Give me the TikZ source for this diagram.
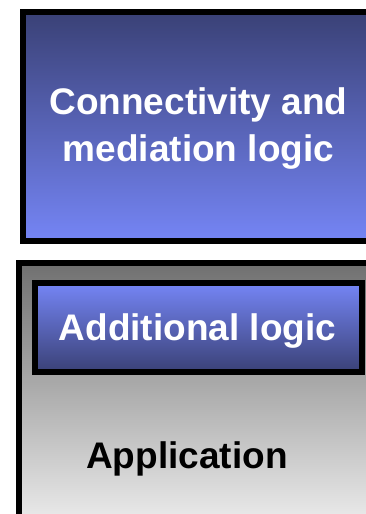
\documentclass[tikz,border=0pt]{standalone}
\usepackage{fontspec}
\setmainfont{Liberation Sans}
\definecolor{bluedark}{RGB}{58,65,118}
\definecolor{bluelight}{RGB}{117,133,245}
\definecolor{graytop}{RGB}{112,112,112}
\definecolor{graybot}{RGB}{234,234,234}
\tikzset{
  box/.style={draw=black, line width=6pt, inner sep=0pt, anchor=north west},
  bigtext/.style={font=\fontsize{37}{47}\selectfont\bfseries, inner sep=0pt, align=center}
}
\begin{document}
\begin{tikzpicture}[x=1pt,y=1pt]
\useasboundingbox (0,0) rectangle (365,-514);
\node[box, top color=bluedark, bottom color=bluelight, minimum width=360, minimum height=229.2] (conn) at (19.7,-8.8) {};
\node[box, top color=graytop, bottom color=graybot, minimum width=370, minimum height=257] (app) at (16,-260) {};
\node[box, top color=bluelight, bottom color=bluedark, minimum width=327.5, minimum height=89] (add) at (31.5,-280) {};
\node[bigtext, text=white] (conntext) at (198.5,-129) {Connectivity and\\mediation logic};
\node[bigtext, text=white, anchor=base] (addtext) at (197.5,-340) {Additional logic};
\node[bigtext, text=black, anchor=base] (apptext) at (187,-468) {Application};
\end{tikzpicture}
\end{document}
